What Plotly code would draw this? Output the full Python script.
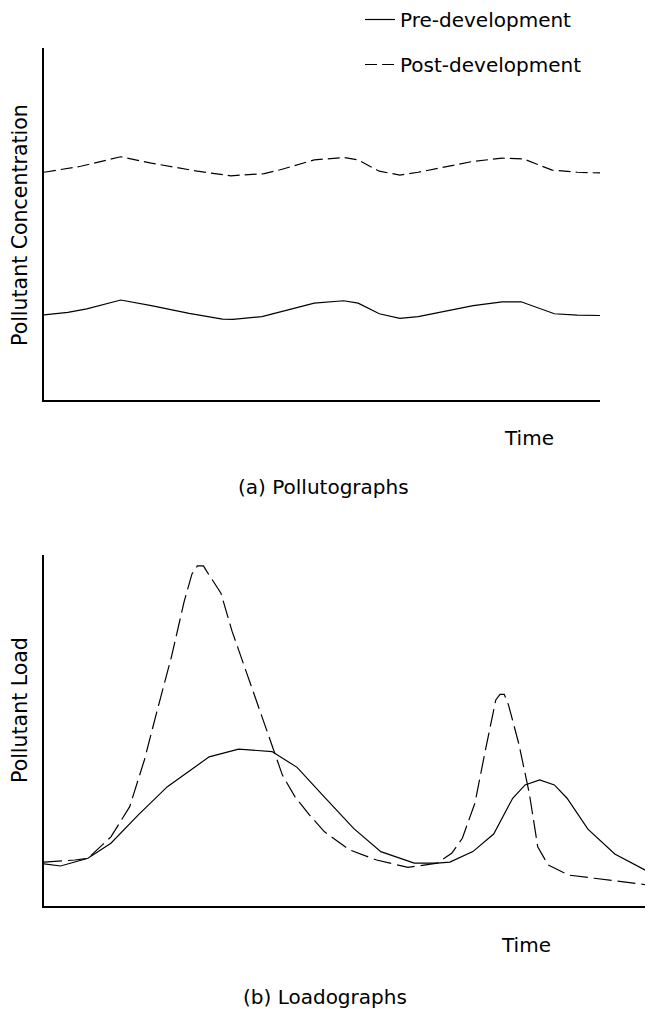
import plotly.graph_objects as go

# ---- (a) Pollutographs ----
conc_post_t = [0, 6.6, 13.8, 19.3, 27.6, 33.6, 39.6, 42.5, 48.6, 53.9, 56.5, 60.3, 64.0, 67.3, 77.2, 82.4, 86.2, 91.4, 95.9, 100]
conc_post_v = [64.7, 66.4, 69.1, 67.3, 65.0, 63.7, 64.3, 65.4, 68.2, 68.9, 68.2, 65.0, 63.9, 64.7, 67.8, 68.7, 68.5, 65.3, 64.7, 64.5]
conc_pre_t = [0, 4.3, 7.7, 13.8, 19.3, 26.1, 32.1, 34.0, 39.2, 48.6, 53.9, 56.5, 60.3, 64.0, 67.3, 77.2, 82.4, 85.8, 91.8, 95.9, 100]
conc_pre_v = [24.2, 24.9, 25.9, 28.4, 26.8, 24.6, 23.0, 22.9, 23.7, 27.5, 28.2, 27.5, 24.5, 23.2, 23.7, 26.8, 27.9, 27.9, 24.5, 24.1, 24.0]

# ---- (b) Loadographs ----
load_pre_t = [0, 2.76, 7.27, 11.08, 15.58, 20.43, 27.35, 32.2, 37.75, 41.9, 46.4, 51.26, 55.76, 61.3, 65.1, 67.2,
              71.0, 74.45, 77.6, 79.65, 82.07, 84.5, 86.6, 90.05, 94.5, 100]
load_pre_v = [12.0, 11.4, 13.6, 17.9, 25.9, 34.0, 42.5, 44.7, 44.0, 39.5, 31.1, 22.1, 15.5, 12.2, 12.2, 12.5,
              15.5, 20.5, 30.7, 34.5, 35.9, 34.5, 30.7, 21.9, 14.8, 9.8]
load_post_t = [0, 5.13, 7.27, 11.08, 14.19, 16.62, 18.69, 21.1, 23.2, 24.5, 25.4, 26.4, 27.0, 28.0, 29.3,
               31.13, 33.28, 34.97, 37.4, 39.47, 41.56, 43.97, 46.4, 50.56, 55.07, 60.26, 65.1, 67.5, 69.26, 71.34,
               73.08, 74.8, 75.5, 76.2, 76.9, 78.6, 80.35, 81.74, 83.46, 86.9, 91.1, 100]
load_post_v = [12.5, 13.1, 13.6, 19.7, 28.3, 41.6, 55.4, 71.0, 86.7, 94.6, 96.9, 96.9, 95.2, 92.6, 89.1,
               78.3, 67.8, 59.6, 47.3, 37.3, 31.1, 25.9, 21.2, 16.0, 13.1, 11.0, 12.2, 15.0, 19.3, 29.3,
               44.4, 58.7, 60.3, 60.3, 57.3, 46.3, 32.1, 16.9, 11.7, 8.8, 7.9, 6.0]

series_names = ["Pre-development", "Post-development"]
x_title = "Time"
y_titles = ["Pollutant Concentration", "Pollutant Load"]
captions = ["(a) Pollutographs", "(b) Loadographs"]

FONT = "DejaVu Sans, Verdana, sans-serif"
OFF = 8                      # page body margin
W, H = 653 - OFF, 1009 - OFF
ML, MR = 44 - OFF, 0
PW = W - ML - MR


def px(x):
    # reference-picture x -> paper coordinate
    return (x - OFF - ML) / PW


def py(y):
    # reference-picture y -> paper coordinate
    return 1 - (y - OFF) / H


fig = go.Figure()

fig.add_trace(go.Scatter(x=conc_pre_t, y=conc_pre_v, mode="lines", name=series_names[0],
                         line=dict(color="black", width=1.2), legendgroup="a",
                         xaxis="x", yaxis="y"))
fig.add_trace(go.Scatter(x=conc_post_t, y=conc_post_v, mode="lines", name=series_names[1],
                         line=dict(color="black", width=1.2, dash="12px,5px"), legendgroup="b",
                         xaxis="x", yaxis="y"))
fig.add_trace(go.Scatter(x=load_pre_t, y=load_pre_v, mode="lines", name=series_names[0],
                         line=dict(color="black", width=1.2), showlegend=False,
                         xaxis="x2", yaxis="y2"))
fig.add_trace(go.Scatter(x=load_post_t, y=load_post_v, mode="lines", name=series_names[1],
                         line=dict(color="black", width=1.2, dash="18px,6px"), showlegend=False,
                         xaxis="x2", yaxis="y2"))

axis_common = dict(showline=True, linecolor="black", linewidth=1.5, showgrid=False,
                   zeroline=False, showticklabels=False, ticks="", fixedrange=True)

fig.update_layout(
    width=W, height=H,
    margin=dict(l=ML, r=MR, t=0, b=0, autoexpand=False),
    paper_bgcolor="white", plot_bgcolor="white",
    font=dict(family=FONT, size=20, color="black"),
    xaxis=dict(domain=[0, px(600)], range=[0, 100], anchor="y", **axis_common),
    yaxis=dict(domain=[py(400), py(48)], range=[0, 100], anchor="x", **axis_common),
    xaxis2=dict(domain=[0, px(648)], range=[0, 100], anchor="y2", **axis_common),
    yaxis2=dict(domain=[py(906), py(555)], range=[0, 100], anchor="x2", **axis_common),
    showlegend=True,
    legend=dict(x=px(360), y=1.0 + 8 / H, xanchor="left", yanchor="top", bgcolor="rgba(0,0,0,0)",
                font=dict(family=FONT, size=20), tracegroupgap=16, itemwidth=30),
)

ann = []
ann.append(dict(text=x_title, x=px(529), y=py(438), xref="paper", yref="paper", showarrow=False,
                xanchor="center", yanchor="middle", font=dict(size=20)))
ann.append(dict(text=x_title, x=px(526), y=py(945), xref="paper", yref="paper", showarrow=False,
                xanchor="center", yanchor="middle", font=dict(size=20)))
ann.append(dict(text=captions[0], x=px(323), y=py(487), xref="paper", yref="paper", showarrow=False,
                xanchor="center", yanchor="middle", font=dict(size=20)))
ann.append(dict(text=captions[1], x=px(325), y=py(997), xref="paper", yref="paper", showarrow=False,
                xanchor="center", yanchor="middle", font=dict(size=20)))
ann.append(dict(text=y_titles[0], x=px(20), y=py(225), xref="paper", yref="paper", showarrow=False,
                textangle=-90, xanchor="center", yanchor="middle", font=dict(size=20.5)))
ann.append(dict(text=y_titles[1], x=px(20), y=py(710), xref="paper", yref="paper", showarrow=False,
                textangle=-90, xanchor="center", yanchor="middle", font=dict(size=20.5)))
fig.update_layout(annotations=ann)

fig.write_html("out.html")
